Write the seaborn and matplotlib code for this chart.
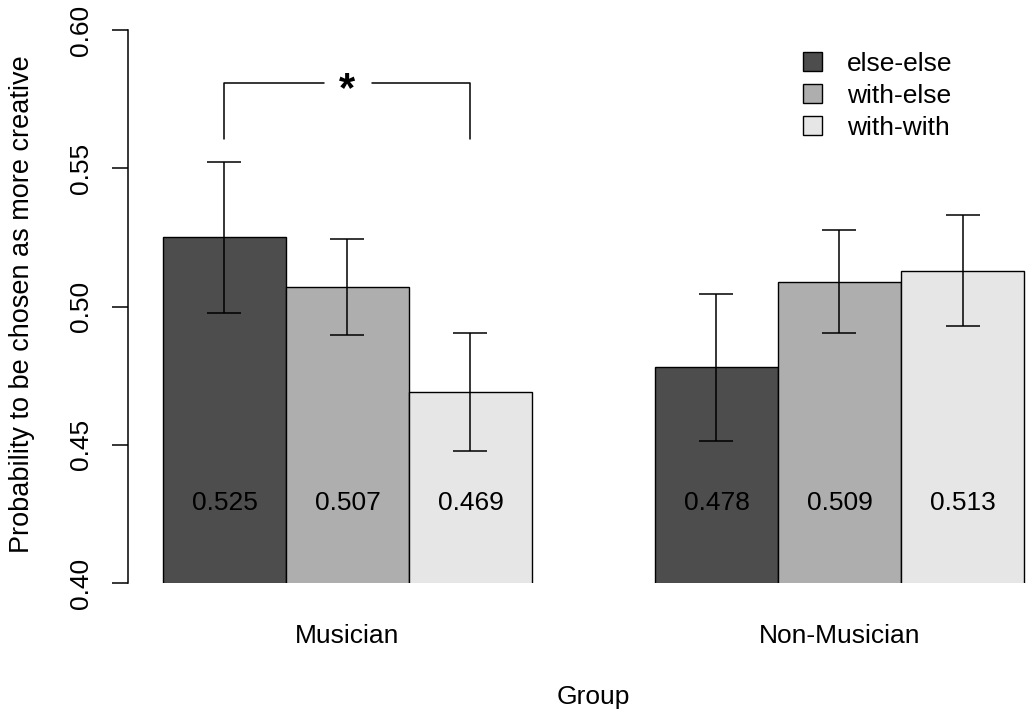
#!/usr/bin/env python3

import pandas as pd
import numpy as np
import matplotlib
matplotlib.use("Agg")
import matplotlib.pyplot as plt
import matplotlib.patches as mpatches
import seaborn as sns

# values
groups = ["Musician", "Non-Musician"]
conditions = ["else-else", "with-else", "with-with"]
means = {
    "else-else": [0.525, 0.478],
    "with-else": [0.507, 0.509],
    "with-with": [0.469, 0.513],
}
errors = {
    "else-else": [0.0273, 0.0267],
    "with-else": [0.0174, 0.0185],
    "with-with": [0.0213, 0.0202],
}
bar_colors = ["#4d4d4d", "#aeaeae", "#e6e6e6"]
y_ticks = [0.40, 0.45, 0.50, 0.55, 0.60]

rows = []
for cond in conditions:
    for g, m, e in zip(groups, means[cond], errors[cond]):
        rows.append({"Group": g, "condition": cond, "prob": m, "err": e})
df = pd.DataFrame(rows)

sns.set_style("white")
plt.rcParams["font.family"] = ["Liberation Sans", "DejaVu Sans"]
plt.rcParams["text.color"] = "black"
plt.rcParams["axes.labelcolor"] = "black"
plt.rcParams["xtick.color"] = "black"
plt.rcParams["ytick.color"] = "black"
fs = 19

fig = plt.figure(figsize=(10.28, 7.11), dpi=100)
# plot region runs a little past the right edge of the picture
ax = fig.add_axes([128 / 1028, 1 - 583 / 711, 930 / 1028, 553 / 711])

sns.barplot(data=df, x="Group", y="prob", hue="condition", hue_order=conditions,
            palette=bar_colors, width=0.75, edgecolor="black", linewidth=1.0,
            errorbar=None, saturation=1, legend=False, ax=ax)

# error bars and value labels, placed on the bars seaborn drew
bar_x = {}
for cond, cont in zip(conditions, ax.containers):
    for g, bar in zip(groups, cont):
        sub = df[(df["Group"] == g) & (df["condition"] == cond)].iloc[0]
        xc = bar.get_x() + bar.get_width() / 2
        bar_x[(g, cond)] = xc
        ax.errorbar(xc, sub["prob"], yerr=sub["err"], fmt="none", ecolor="black",
                    elinewidth=1.1, capsize=12, capthick=1.1, zorder=3)
        ax.text(xc, 0.429, f"{sub['prob']:.3f}", ha="center", va="center",
                fontsize=fs, color="black", zorder=4)

# significance bracket
x1 = bar_x[("Musician", "else-else")]
x3 = bar_x[("Musician", "with-with")]
xm = bar_x[("Musician", "with-else")]
ytop, ylow = 0.5808, 0.5606
ax.plot([x1, x1, xm - 0.048], [ylow, ytop, ytop], color="black", lw=1.1, clip_on=False)
ax.plot([xm + 0.05, x3, x3], [ytop, ytop, ylow], color="black", lw=1.1, clip_on=False)
ax.text(xm, 0.5742, "*", ha="center", va="baseline", fontsize=30,
        fontweight="bold", color="black")

ax.set_ylim(0.40, 0.60)
ax.set_xlim(-0.4461, 1.4441)
ax.set_yticks(y_ticks)
ax.set_yticklabels([f"{t:.2f}" for t in y_ticks], rotation=90, va="center")
ax.tick_params(axis="y", length=11.5, width=1.1, pad=14, labelsize=fs, left=True,
               direction="out", color="black")
ax.tick_params(axis="x", length=0, pad=29.5, labelsize=fs)
ax.set_ylabel("Probability to be chosen as more creative", fontsize=19.5)
ax.yaxis.set_label_coords(-0.100, 0.5045)
ax.set_xlabel("Group", fontsize=fs, labelpad=27)

sns.despine(ax=ax, top=True, right=True, bottom=True)
ax.spines["left"].set_linewidth(1.1)
ax.spines["left"].set_color("black")

handles = [mpatches.Patch(facecolor=c, edgecolor="black", linewidth=1.0, label=l)
           for c, l in zip(bar_colors, conditions)]
fig.legend(handles=handles, loc="upper left",
           bbox_to_anchor=(803 / 1028, 1 - 52 / 711), bbox_transform=fig.transFigure,
           frameon=False, fontsize=fs, handlelength=0.72, handleheight=0.72,
           handletextpad=0.95, labelspacing=0.3, borderpad=0, borderaxespad=0)

fig.savefig("out.png", dpi=100)
